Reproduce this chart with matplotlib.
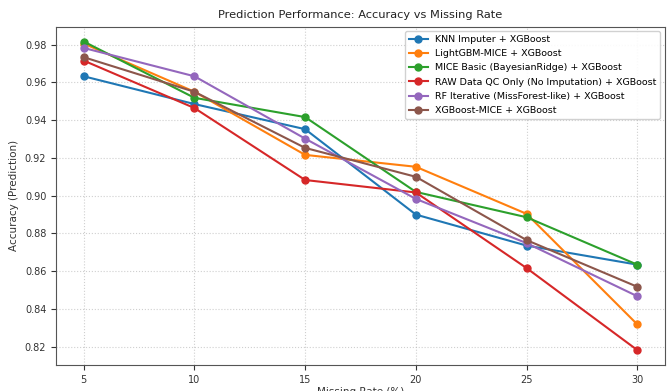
import matplotlib
matplotlib.use("Agg")
import matplotlib.pyplot as plt

missing_rate = [5, 10, 15, 20, 25, 30]

methods = [
    "KNN Imputer + XGBoost",
    "LightGBM-MICE + XGBoost",
    "MICE Basic (BayesianRidge) + XGBoost",
    "RAW Data QC Only (No Imputation) + XGBoost",
    "RF Iterative (MissForest-like) + XGBoost",
    "XGBoost-MICE + XGBoost",
]

knn = [0.9632, 0.9485, 0.9352, 0.8900, 0.8736, 0.8635]
lgbm_mice = [0.9805, 0.9550, 0.9216, 0.9153, 0.8904, 0.8319]
mice_basic = [0.9816, 0.9518, 0.9416, 0.9020, 0.8886, 0.8635]
raw_qc = [0.9715, 0.9464, 0.9083, 0.9017, 0.8617, 0.8183]
rf_iter = [0.9782, 0.9632, 0.9302, 0.8983, 0.8749, 0.8468]
xgb_mice = [0.9733, 0.9550, 0.9253, 0.9100, 0.8765, 0.8518]

series = [knn, lgbm_mice, mice_basic, raw_qc, rf_iter, xgb_mice]

fig = plt.figure(figsize=(6.71, 3.91), dpi=100)
ax = fig.add_axes([0.0835, 0.067, 0.9075, 0.865])

for name, vals in zip(methods, series):
    ax.plot(missing_rate, vals, marker='o', markersize=5, linewidth=1.5, label=name)

ax.set_title("Prediction Performance: Accuracy vs Missing Rate", fontsize=8.2, color='#222222')
ax.set_xlabel("Missing Rate (%)", fontsize=7.5, color='#333333', labelpad=1.5)
ax.set_ylabel("Accuracy (Prediction)", fontsize=7.5, color='#333333')
ax.set_xticks(missing_rate)
ax.set_yticks([0.82, 0.84, 0.86, 0.88, 0.90, 0.92, 0.94, 0.96, 0.98])
ax.set_ylim(0.8105, 0.9895)
ax.set_xlim(3.75, 31.25)
ax.tick_params(labelsize=7, colors='#333333')
ax.grid(True, linestyle=':', alpha=0.6)
for s in ax.spines.values():
    s.set_color('#555555')
ax.legend(loc='upper right', fontsize=6.8, framealpha=0.9, labelspacing=0.55)

fig.savefig("out.png", dpi=100)
